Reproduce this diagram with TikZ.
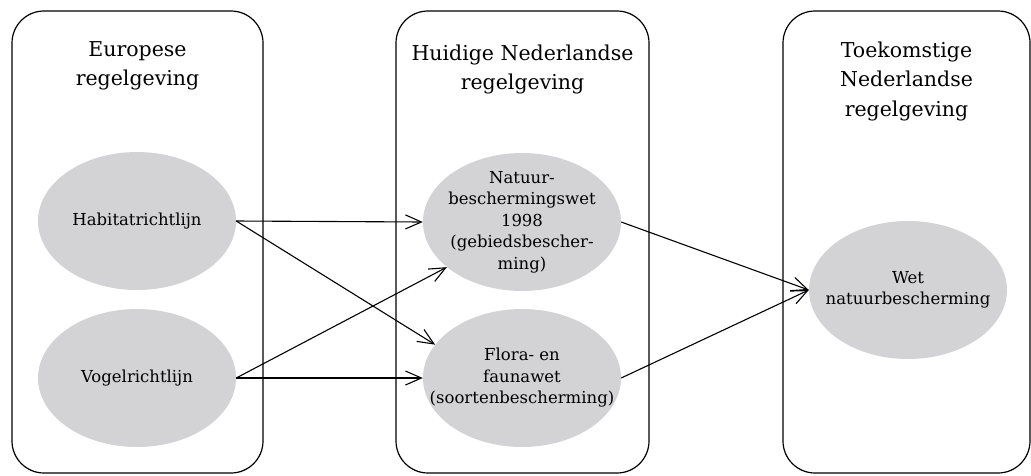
\documentclass[tikz,border=0pt]{standalone}
\usepackage{fontspec}
\setmainfont{DejaVu Serif}
\usetikzlibrary{arrows.meta,shapes.geometric}

\definecolor{ovaalgrijs}{RGB}{211,211,213}

\tikzset{
  >={Straight Barb[length=16pt,width=14pt]},
  kader/.style={draw, rounded corners=32pt, line width=1.2pt, minimum height=462pt, inner sep=0pt},
  ovaal/.style={ellipse, fill=ovaalgrijs, minimum width=198pt, minimum height=138pt, inner xsep=-30pt, inner ysep=-15pt, align=center, font=\fontsize{16.5}{21.5}\selectfont},
  kop/.style={align=center, anchor=north, font=\fontsize{20.5}{29.5}\selectfont},
  pijl/.style={->, line width=1.1pt},
}

\begin{document}
\begin{tikzpicture}[x=1pt, y=-1pt]
\useasboundingbox (0,0) rectangle (1031,475);
% Kaders
\node[kader, minimum width=251pt] (eu) at (137.5,242) {};
\node[kader, minimum width=253pt] (nu) at (522.5,242) {};
\node[kader, minimum width=247pt] (straks) at (906.5,242) {};
% Koppen
\node[kop] (kopeu) at (137.5,38) {Europese\\regelgeving};
\node[kop] (kopnu) at (522.5,41) {Huidige Nederlandse\\regelgeving};
\node[kop] (kopstraks) at (906.5,38) {Toekomstige\\Nederlandse\\regelgeving};
% Ovalen
\node[ovaal] (hab) at (137,221) {Habitatrichtlijn};
\node[ovaal] (vog) at (137,378) {Vogelrichtlijn};
\node[ovaal] (nbw) at (522,222) {Natuur-\\beschermingswet\\1998\\(gebiedsbescher-\\ming)};
\node[ovaal] (ffw) at (522,378) {Flora- en\\faunawet\\(soortenbescherming)};
\node[ovaal] (wnb) at (908,290) {Wet\\natuurbescherming};
% Pijlen
\draw[pijl] (hab.east) -- (nbw.west);
\draw[pijl] (hab.east) -- (ffw.159);
\draw[pijl] (vog.east) -- (nbw.211);
\draw[pijl] (vog.east) -- (ffw.west);
\draw[pijl] (nbw.east) -- (wnb.west);
\draw[pijl] (ffw.east) -- (wnb.west);
\end{tikzpicture}
\end{document}
